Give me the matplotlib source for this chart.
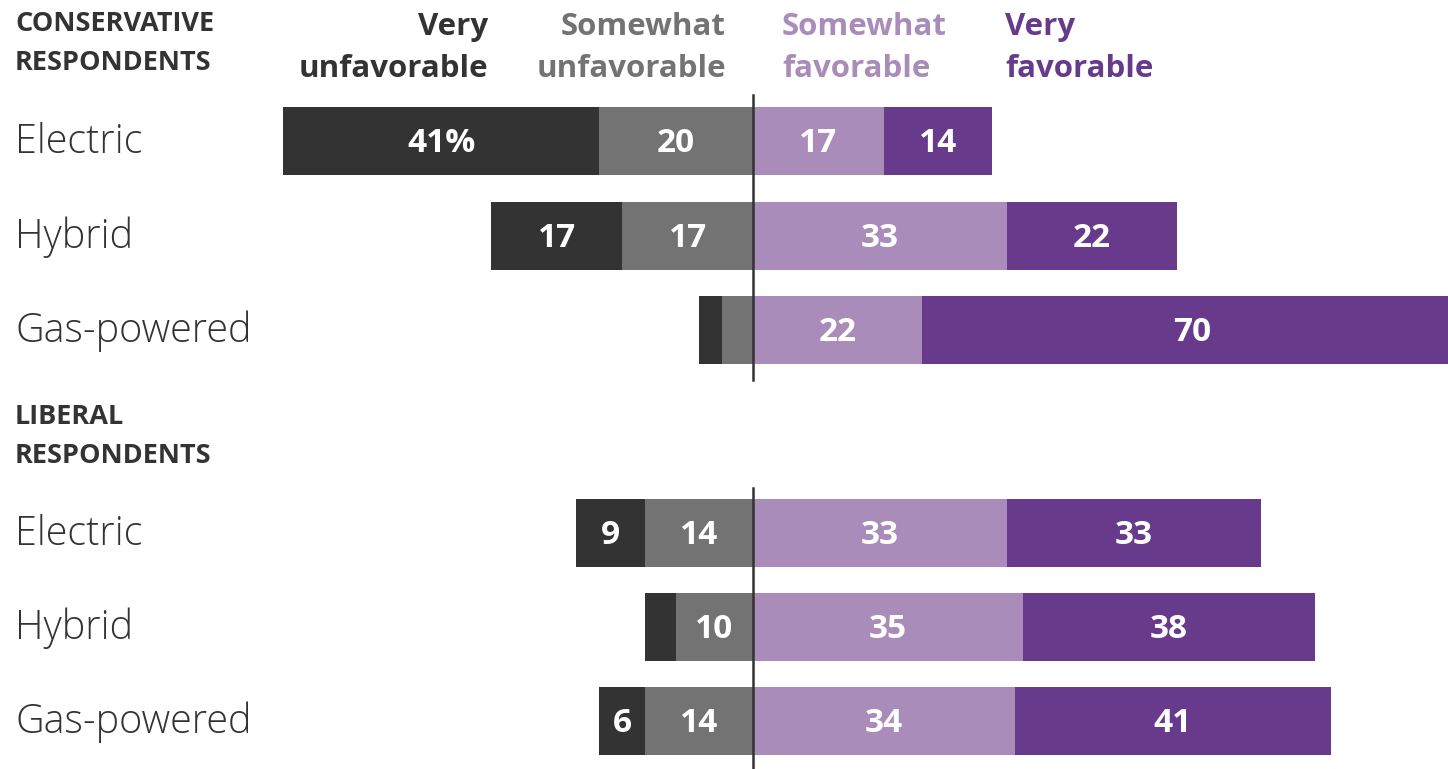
import matplotlib
matplotlib.use("Agg")
import matplotlib.pyplot as plt

# 回答データ（%）
groups = [["CONSERVATIVE", "RESPONDENTS"], ["LIBERAL", "RESPONDENTS"]]
categories = ["Electric", "Hybrid", "Gas-powered"]
very_unfav = [[41, 17, 3], [9, 4, 6]]
somewhat_unfav = [[20, 17, 4], [14, 10, 14]]
somewhat_fav = [[17, 33, 22], [33, 35, 34]]
very_fav = [[14, 22, 70], [33, 38, 41]]

col_names = [["Very", "unfavorable"], ["Somewhat", "unfavorable"],
             ["Somewhat", "favorable"], ["Very", "favorable"]]
colors = ["#333333", "#737373", "#aa8cbb", "#673a8c"]

# フォント
body = ["Open Sans", "DejaVu Sans"]

W, H = 1448, 769
scale = 7.7       # px / %
center = 753

fig = plt.figure(figsize=(W / 100, H / 100), dpi=100)
ax = fig.add_axes([0, 0, 1, 1])
ax.set_xlim(-center / scale, (W - center) / scale)
ax.set_ylim(H, 0)
ax.axis("off")


def px(x):
    return (x - center) / scale


row_y = [[141, 236, 330], [533, 627, 721]]
bar_h = 68
header_base = [31, 424]

for g in range(2):
    for i, cat in enumerate(categories):
        y = row_y[g][i]
        vu, su = very_unfav[g][i], somewhat_unfav[g][i]
        sf, vf = somewhat_fav[g][i], very_fav[g][i]
        segs = [(-su - vu, vu, colors[0]), (-su, su, colors[1]),
                (0, sf, colors[2]), (sf, vf, colors[3])]
        for k, (left, val, c) in enumerate(segs):
            ax.barh(y, val, left=left, height=bar_h, color=c, linewidth=0)
            if val >= 5:
                lab = f"{val}%" if (g == 0 and i == 0 and k == 0) else str(val)
                ax.text(left + val / 2, y + 11, lab, ha="center", va="baseline",
                        color="white", fontsize=24, fontweight="bold", family=body)
        ax.text(px(15), y + 12, cat, ha="left", va="baseline", fontsize=28.5,
                color="#333333", family=body, fontweight="light")

    for j, line in enumerate(groups[g]):
        ax.text(px(15), header_base[g] + 39 * j, line, ha="left", va="baseline",
                fontsize=19.5, fontweight="bold", color="#333333", family=body)

# 中央線
ax.plot([0, 0], [95, 380], color="#333333", lw=1.8)
ax.plot([0, 0], [488, 769], color="#333333", lw=1.8)

# 列見出し
head_x = [488, 726, 782, 1005]
aligns = ["right", "right", "left", "left"]
for name, x, a, c in zip(col_names, head_x, aligns, colors):
    for j, line in enumerate(name):
        ax.text(px(x), 35 + 42 * j, line, ha=a, va="baseline", fontsize=22.5,
                fontweight="bold", color=c, family=body)

fig.savefig("out.png", dpi=100)
